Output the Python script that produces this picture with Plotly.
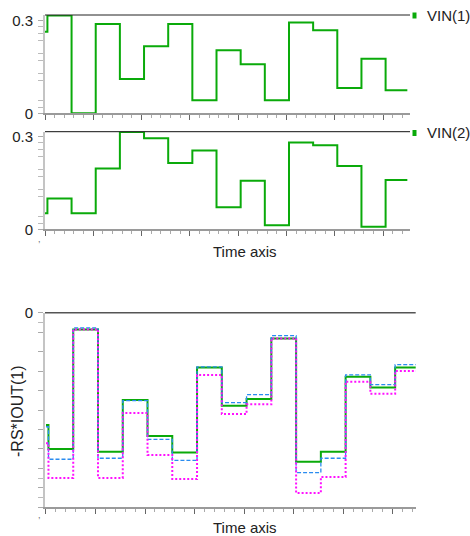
import plotly.graph_objects as go

# ---- data ----
time_pts = [0.0, 0.1, 1.1, 2.1, 3.1, 4.1, 5.1, 6.1, 7.1, 8.1, 9.1, 10.1, 11.1, 12.1, 13.1, 14.1, 15.0]
vin1 = [0.264, 0.317, 0.0, 0.289, 0.111, 0.217, 0.289, 0.042, 0.204, 0.159, 0.042, 0.294, 0.269, 0.082, 0.177, 0.075]
vin2 = [0.052, 0.100, 0.052, 0.197, 0.315, 0.295, 0.215, 0.255, 0.071, 0.157, 0.013, 0.281, 0.272, 0.205, 0.008, 0.160]
out_green = [-5.77, -7.00, -0.86, -7.14, -4.49, -6.34, -7.19, -2.81, -4.78, -4.43, -1.32, -7.66, -7.14, -3.29, -3.85, -2.81]
out_blue = [-5.86, -7.53, -0.78, -7.48, -4.52, -6.51, -7.59, -2.78, -4.62, -4.21, -1.18, -8.22, -7.48, -3.19, -3.70, -2.67]
out_magenta = [-6.71, -8.49, -0.86, -8.49, -5.15, -7.31, -8.55, -3.20, -5.21, -4.71, -1.32, -9.27, -8.44, -3.55, -4.16, -3.00]
series_names = ["VIN(1)", "VIN(2)"]
y_title = "-RS*IOUT(1)"
x_title = "Time axis"

W, H = 470, 536
FONT = "Liberation Sans, Arial, sans-serif"
GREEN = "#0aaa0a"


def ext(v):
    return v + [v[-1]]


def px(x):
    return x / W


def py(y):
    return 1 - y / H


fig = go.Figure()
fig.add_trace(go.Scatter(x=time_pts, y=ext(vin1), mode="lines", line=dict(color=GREEN, width=2, shape="hv"),
                         xaxis="x", yaxis="y", name=series_names[0]))
fig.add_trace(go.Scatter(x=time_pts, y=ext(vin2), mode="lines", line=dict(color=GREEN, width=2, shape="hv"),
                         xaxis="x2", yaxis="y2", name=series_names[1]))
fig.add_trace(go.Scatter(x=time_pts, y=ext(out_green), mode="lines", line=dict(color=GREEN, width=2, shape="hv"),
                         xaxis="x3", yaxis="y3"))
fig.add_trace(go.Scatter(x=time_pts, y=ext(out_blue), mode="lines",
                         line=dict(color="#2a8cf0", width=1.3, shape="hv", dash="4px,2px"),
                         xaxis="x3", yaxis="y3"))
fig.add_trace(go.Scatter(x=time_pts, y=ext(out_magenta), mode="lines",
                         line=dict(color="#ff10ff", width=2, shape="hv", dash="2px,2px"),
                         xaxis="x3", yaxis="y3"))

tickfont = dict(family=FONT, size=15, color="#222")


def xaxis(domain, rng, anchor):
    return dict(domain=domain, range=rng, anchor=anchor, showgrid=False, zeroline=False, automargin=False,
                showline=True, linecolor="#9a9a9a", linewidth=1.5,
                ticks="outside", tickvals=[0, 2, 4, 6, 8, 10, 12, 14], ticklen=5, tickcolor="#666", tickwidth=1,
                showticklabels=False,
                minor=dict(ticks="outside", dtick=0.4, tick0=0, ticklen=3, tickcolor="#aaa", tickwidth=1))


def yaxis(domain, rng, anchor, tv, tt, minor_vals):
    return dict(domain=domain, range=rng, anchor=anchor, showgrid=False, zeroline=False, automargin=False,
                showline=True, linecolor="#c4c4c4", linewidth=2,
                ticks="outside", tickvals=tv, ticktext=tt, ticklen=5, tickcolor="#aaa", tickwidth=1,
                tickfont=tickfont, ticklabelstandoff=2,
                minor=dict(ticks="outside", tickmode="array", tickvals=minor_vals, ticklen=5,
                           tickcolor="#bbb", tickwidth=1))


top_dom_x = [px(45), px(410)]
bot_dom_x = [px(45), px(415.7)]

fig.update_layout(
    width=W, height=H, margin=dict(l=0, r=0, t=0, b=0, pad=0, autoexpand=False),
    paper_bgcolor="white", plot_bgcolor="white", showlegend=False,
    xaxis=xaxis(top_dom_x, [0, 15.11], "y"),
    xaxis2=xaxis(top_dom_x, [0, 15.11], "y2"),
    xaxis3=xaxis(bot_dom_x, [-0.04, 14.93], "y3"),
    yaxis=yaxis([py(113.3), py(15)], [0, 0.3185], "x", [0, 0.3], ["0", "0.3"],
                [0.019, 0.043, 0.106, 0.13, 0.171, 0.195, 0.237, 0.259, 0.28]),
    yaxis2=yaxis([py(229.3), py(131.7)], [0, 0.316], "x2", [0, 0.3], ["0", "0.3"],
                 [0.019, 0.043, 0.106, 0.13, 0.171, 0.195, 0.237, 0.259, 0.28]),
    yaxis3=yaxis([py(507.3), py(312.7)], [-10, 0], "x3",
                 [-10, -9, -8, -7, -6, -5, -4, -3, -2, -1, 0],
                 ["", "", "", "", "", "", "", "", "", "", "0"],
                 [-9.5, -8.5, -0.5]),
)

# top frame lines
shapes = []
for xr, yr, col, w in [("x domain", "y domain", "#222", 1), ("x2 domain", "y2 domain", "#111", 1),
                       ("x3 domain", "y3 domain", "#555", 1.5)]:
    shapes.append(dict(type="line", xref=xr, yref=yr, x0=0, x1=1, y0=1, y1=1, line=dict(color=col, width=w)))
# legend markers
for yc in [15.5, 133]:
    shapes.append(dict(type="rect", xref="paper", yref="paper", x0=px(412.5), x1=px(416.5),
                       y0=py(yc + 3), y1=py(yc - 3), fillcolor=GREEN, line=dict(width=0)))
fig.update_layout(shapes=shapes)

ann = []
for name, yc in zip(series_names, [16, 133]):
    ann.append(dict(text=name, xref="paper", yref="paper", x=px(425), y=py(yc), xanchor="left", yanchor="middle",
                    showarrow=False, font=dict(family=FONT, size=15, color="#222")))
for yc in [251, 527]:
    ann.append(dict(text=x_title, xref="paper", yref="paper", x=px(245.5), y=py(yc), xanchor="center",
                    yanchor="middle", showarrow=False, font=dict(family=FONT, size=15, color="#222")))
ann.append(dict(text=y_title, xref="paper", yref="paper", x=px(17), y=py(411), xanchor="center",
                yanchor="middle", textangle=-90, showarrow=False,
                font=dict(family=FONT, size=16, color="#222")))
for yc in [239, 515]:
    ann.append(dict(text=",", xref="paper", yref="paper", x=px(39), y=py(yc), xanchor="center",
                    yanchor="middle", showarrow=False, font=dict(family=FONT, size=9, color="#666")))
fig.update_layout(annotations=ann)

fig.write_html("out.html")
